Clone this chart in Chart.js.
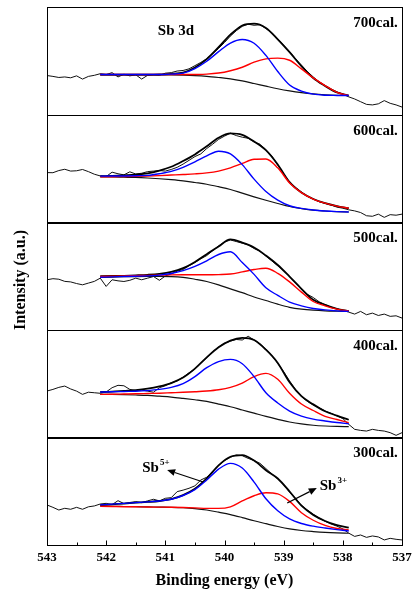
<!DOCTYPE html>
<html>
<head>
<meta charset="utf-8">
<title>Sb 3d XPS</title>
<script src="https://cdn.jsdelivr.net/npm/chart.js@4/dist/chart.umd.min.js"></script>
<style>
  html, body { margin: 0; padding: 0; background: #fff; }
  canvas { display: block; }
</style>
</head>
<body>
<canvas id="xps" width="412" height="596"></canvas>
<script>
// binding energy grids (eV)
const rawEnergy = [
  543.0, 542.9, 542.8, 542.7, 542.6, 542.5, 542.4, 542.3, 542.2, 542.1,
  542.0, 541.9, 541.8, 541.7, 541.6, 541.5, 541.4, 541.3, 541.2, 541.1,
  541.0, 540.9, 540.8, 540.7, 540.6, 540.5, 540.4, 540.3, 540.2, 540.1,
  540.0, 539.9, 539.8, 539.7, 539.6, 539.5, 539.4, 539.3, 539.2, 539.1,
  539.0, 538.9, 538.8, 538.7, 538.6, 538.5, 538.4, 538.3, 538.2, 538.1,
  538.0, 537.9, 537.8, 537.7, 537.6, 537.5, 537.4, 537.3, 537.2, 537.1,
  537.0
];
const fitEnergy = [
  542.1, 541.9, 541.7, 541.5, 541.3, 541.1, 540.9, 540.7, 540.5, 540.3, 540.1,
  539.9, 539.7, 539.5, 539.3, 539.1, 538.9, 538.7, 538.5, 538.3, 538.1, 537.9
];

const xTicks = [543, 542, 541, 540, 539, 538, 537];

// panel names, top to bottom
const panelNames = ['700cal.', '600cal.', '500cal.', '400cal.', '300cal.'];

// measured spectra (intensity, a.u., 0-100 per panel)
const raw700 = [
  36.3, 35.5, 34.5, 35.0, 34.2, 36.0, 33.0, 35.5, 36.5, 38.0,
  37.2, 39.0, 35.0, 37.5, 36.0, 37.0, 33.0, 36.5, 37.0, 36.5,
  38.5, 39.0, 40.5, 41.0, 42.5, 45.5, 48.5, 52.0, 56.5, 61.5,
  67.0, 73.0, 78.0, 82.0, 84.0, 83.0, 83.5, 80.0, 76.0, 70.5,
  64.5, 58.5, 52.0, 46.0, 40.0, 35.0, 30.5, 27.0, 23.5, 21.0,
  19.0, 16.5, 14.5, 12.0, 9.5, 9.0, 10.0, 13.0, 10.5, 9.0,
  7.0
];
const raw600 = [
  46.1, 46.0, 48.0, 49.2, 47.5, 47.8, 49.0, 47.0, 44.6, 43.0,
  42.4, 46.5, 45.0, 44.0, 46.8, 44.8, 45.5, 47.0, 47.5, 48.0,
  47.5, 49.0, 51.0, 54.0, 57.5, 61.0, 63.5, 68.5, 72.5, 77.0,
  80.0, 82.7, 80.5, 79.0, 78.0, 74.5, 72.5, 67.0, 61.5, 53.0,
  45.0, 37.0, 32.0, 28.0, 24.0, 21.5, 19.0, 17.5, 16.0, 14.0,
  13.0, 11.5, 10.5, 9.0, 6.0, 5.5, 7.5, 4.5, 7.0, 6.5,
  7.5
];
const raw500 = [
  46.5, 47.5, 47.0, 45.0, 44.5, 43.0, 41.8, 43.4, 45.0, 48.0,
  40.3, 46.5, 45.5, 44.9, 46.0, 48.0, 46.5, 48.0, 49.5, 46.0,
  50.0, 52.0, 54.5, 56.0, 59.5, 62.5, 66.0, 69.0, 73.5, 78.0,
  81.5, 83.5, 82.0, 80.5, 79.0, 75.5, 73.0, 68.5, 64.0, 59.5,
  55.0, 49.5, 43.5, 38.5, 33.0, 30.0, 26.0, 23.5, 21.0, 19.5,
  18.0, 16.4, 14.6, 17.1, 14.0, 15.5, 13.3, 14.6, 12.5, 13.0,
  10.9
];
const raw400 = [
  43.1, 44.6, 46.5, 47.7, 45.0, 43.0, 40.0, 42.0, 41.5, 41.0,
  42.2, 46.2, 48.4, 48.0, 44.6, 43.5, 44.0, 43.0, 42.0, 46.2,
  48.0, 50.8, 52.5, 56.0, 60.0, 63.5, 69.0, 74.0, 79.5, 84.0,
  87.5, 89.5, 91.0, 90.5, 94.0, 90.5, 87.0, 82.0, 76.0, 69.0,
  61.0, 52.5, 44.5, 38.0, 33.5, 30.0, 27.5, 24.5, 22.5, 20.0,
  17.5, 12.1, 7.5, 6.5, 5.9, 7.5, 6.5, 5.9, 4.4, 1.9,
  4.4
];
const raw300 = [
  37.2, 35.0, 32.5, 34.1, 33.2, 35.0, 33.2, 35.5, 36.3, 38.1,
  38.7, 37.5, 41.2, 38.5, 39.5, 40.3, 39.4, 41.0, 42.5, 41.0,
  43.4, 44.0, 49.6, 51.0, 52.7, 55.0, 60.4, 63.0, 68.0, 74.0,
  78.5, 81.5, 83.7, 83.0, 80.5, 78.5, 75.9, 71.0, 66.0, 61.5,
  56.0, 49.0, 43.5, 37.0, 32.5, 28.5, 25.0, 22.0, 19.5, 17.5,
  15.0, 11.0, 8.0, 9.3, 7.1, 8.4, 7.5, 4.7, 6.2, 5.3,
  4.7
];

// fitted envelopes
const env700 = [37.2, 37.2, 37.2, 37.2, 37.2, 37.4, 37.9, 39.0, 43.8, 51.6, 62.6, 74.3, 82.8, 84.5, 80.5, 70.0, 58.0, 45.0, 33.9, 26.6, 20.6, 17.7];
const env600 = [42.8, 43.1, 43.6, 44.2, 45.3, 47.9, 51.5, 56.9, 63.0, 70.5, 78.5, 82.5, 81.1, 74.9, 66.9, 53.6, 37.2, 27.6, 21.6, 17.7, 15.0, 13.0];
const env500 = [49.8, 50.0, 50.2, 50.6, 51.1, 52.0, 53.8, 57.3, 63.1, 70.3, 77.5, 84.0, 81.0, 76.5, 69.0, 60.2, 49.4, 38.1, 27.9, 23.2, 19.5, 17.3];
const env400 = [42.2, 42.6, 43.3, 44.0, 45.3, 47.4, 50.5, 55.6, 63.9, 74.4, 83.8, 90.0, 92.5, 90.5, 81.5, 69.2, 51.2, 38.3, 30.7, 24.3, 20.2, 16.4];
const env300 = [37.0, 37.8, 38.5, 39.3, 40.0, 40.9, 42.6, 46.3, 52.2, 61.9, 74.0, 82.0, 83.5, 78.5, 69.5, 61.8, 49.7, 36.5, 28.0, 22.3, 18.4, 16.1];

// Sb5+ components
const sb5_700 = [37.2, 37.2, 37.2, 37.2, 37.2, 37.3, 37.6, 38.5, 42.8, 49.6, 58.5, 66.5, 69.8, 66.3, 55.0, 40.0, 27.5, 21.8, 19.0, 18.0, 17.8, 17.7];
const sb5_600 = [42.8, 42.9, 43.0, 43.2, 43.5, 45.0, 47.2, 51.0, 56.0, 61.6, 66.0, 63.5, 53.5, 40.0, 28.5, 20.5, 15.3, 12.8, 11.3, 10.4, 9.8, 9.5];
const sb5_500 = [48.8, 49.2, 49.5, 49.8, 50.1, 50.8, 52.3, 55.0, 59.0, 64.1, 70.0, 72.5, 62.5, 51.5, 39.0, 32.0, 25.8, 22.3, 19.8, 18.5, 17.6, 17.1];
const sb5_400 = [42.2, 42.4, 42.7, 42.9, 43.5, 44.6, 46.5, 50.0, 56.5, 64.8, 70.5, 72.5, 68.5, 56.5, 41.5, 32.0, 24.5, 19.8, 17.0, 15.3, 13.8, 12.7];
const sb5_300 = [37.3, 38.0, 38.7, 39.4, 40.1, 40.9, 42.5, 46.0, 51.5, 60.4, 70.5, 75.9, 71.5, 58.5, 43.0, 31.8, 24.2, 20.0, 17.5, 15.8, 14.3, 13.0];

// Sb3+ components
const sb3_700 = [37.2, 37.2, 37.2, 37.2, 37.2, 37.2, 37.2, 37.2, 37.3, 37.6, 38.6, 40.8, 44.0, 48.7, 51.8, 52.5, 50.5, 42.5, 34.1, 27.0, 20.7, 17.7];
const sb3_600 = [42.1, 42.2, 42.4, 42.6, 42.9, 43.3, 43.8, 44.3, 44.9, 45.8, 47.5, 50.5, 54.6, 58.5, 58.8, 50.5, 36.5, 27.5, 21.5, 17.7, 15.0, 13.0];
const sb3_500 = [49.6, 49.8, 50.0, 50.3, 50.6, 50.8, 51.0, 51.1, 51.1, 51.1, 51.3, 51.8, 53.8, 56.0, 57.2, 52.5, 44.5, 35.0, 26.3, 22.3, 19.2, 17.3];
const sb3_400 = [40.0, 40.1, 40.3, 40.5, 40.8, 41.1, 41.5, 41.9, 42.4, 43.1, 44.3, 46.5, 50.5, 56.5, 59.5, 54.0, 41.0, 31.0, 25.0, 19.6, 16.6, 13.7];
const sb3_300 = [36.0, 35.8, 35.6, 35.5, 35.3, 35.2, 35.1, 34.9, 34.5, 34.0, 34.0, 35.5, 41.0, 45.8, 48.6, 47.5, 40.5, 30.0, 23.0, 18.2, 15.3, 14.0];

// Shirley backgrounds
const bg700 = [37.0, 37.0, 37.0, 37.0, 37.0, 37.0, 36.9, 36.7, 36.3, 35.6, 34.5, 33.2, 31.3, 28.9, 26.4, 24.0, 22.0, 20.4, 19.2, 18.4, 17.9, 17.7];
const bg600 = [42.1, 42.0, 41.8, 41.6, 41.1, 40.4, 39.5, 38.4, 36.9, 35.3, 33.0, 30.4, 27.0, 23.6, 20.4, 17.4, 14.6, 12.7, 11.2, 10.4, 9.8, 9.5];
const bg500 = [48.6, 49.0, 49.3, 49.5, 49.6, 49.6, 49.5, 48.8, 47.0, 44.9, 41.8, 38.0, 34.5, 30.5, 27.2, 23.8, 20.9, 19.2, 18.2, 17.6, 17.3, 17.1];
const bg400 = [40.0, 39.9, 39.7, 39.4, 39.0, 38.3, 37.5, 36.3, 35.0, 33.5, 31.0, 28.5, 25.5, 22.5, 19.5, 16.8, 14.3, 12.5, 11.3, 10.6, 10.2, 10.0];
const bg300 = [36.3, 36.0, 35.8, 35.6, 35.4, 35.2, 35.0, 34.6, 33.8, 32.5, 30.5, 28.3, 25.5, 22.5, 19.8, 17.2, 15.0, 13.5, 12.5, 11.7, 11.2, 10.9];

const rawSets = [raw700, raw600, raw500, raw400, raw300];
const envSets = [env700, env600, env500, env400, env300];
const sb5Sets = [sb5_700, sb5_600, sb5_500, sb5_400, sb5_300];
const sb3Sets = [sb3_700, sb3_600, sb3_500, sb3_400, sb3_300];
const bgSets = [bg700, bg600, bg500, bg400, bg300];

const SERIF = '"Liberation Serif", "Times New Roman", serif';

function pairs(xs, ys) {
  return ys.map((y, i) => ({ x: xs[i], y: y }));
}

// x axis is laid out but drawn by the plugin below, so the plot box stays fixed
const panelAxes = panelNames.map((_, i) => 'y' + i);
const scales = {
  x: {
    type: 'linear',
    display: false,
    min: 537,
    max: 543,
    reverse: true
  }
};
// one y axis per panel; the last one defined sits on top of the stack
for (let i = panelNames.length - 1; i >= 0; i--) {
  scales[panelAxes[i]] = {
    type: 'linear',
    display: false,
    min: 0,
    max: 100,
    position: 'left',
    stack: 'panels',
    stackWeight: 1
  };
}

const datasets = [];
panelNames.forEach((name, i) => {
  const axis = panelAxes[i];
  datasets.push({
    label: name + ' raw', yAxisID: axis, order: 4,
    data: pairs(rawEnergy, rawSets[i]),
    borderColor: '#111', borderWidth: 1, tension: 0
  });
  datasets.push({
    label: name + ' background', yAxisID: axis, order: 3,
    data: pairs(fitEnergy, bgSets[i]),
    borderColor: '#111', borderWidth: 1.2, cubicInterpolationMode: 'monotone'
  });
  datasets.push({
    label: name + ' envelope', yAxisID: axis, order: 2,
    data: pairs(fitEnergy, envSets[i]),
    borderColor: '#000', borderWidth: 1.8, cubicInterpolationMode: 'monotone'
  });
  datasets.push({
    label: name + ' Sb3+', yAxisID: axis, order: 1,
    data: pairs(fitEnergy, sb3Sets[i]),
    borderColor: '#ff0000', borderWidth: 1.4, cubicInterpolationMode: 'monotone'
  });
  datasets.push({
    label: name + ' Sb5+', yAxisID: axis, order: 0,
    data: pairs(fitEnergy, sb5Sets[i]),
    borderColor: '#0000ff', borderWidth: 1.4, cubicInterpolationMode: 'monotone'
  });
});

function arrow(ctx, x0, y0, x1, y1) {
  const ang = Math.atan2(y1 - y0, x1 - x0);
  const len = 8, half = 3.5;
  ctx.beginPath();
  ctx.moveTo(x0, y0);
  ctx.lineTo(x1 - Math.cos(ang) * len, y1 - Math.sin(ang) * len);
  ctx.stroke();
  ctx.beginPath();
  ctx.moveTo(x1, y1);
  ctx.lineTo(x1 - Math.cos(ang) * len - Math.sin(ang) * half, y1 - Math.sin(ang) * len + Math.cos(ang) * half);
  ctx.lineTo(x1 - Math.cos(ang) * len + Math.sin(ang) * half, y1 - Math.sin(ang) * len - Math.cos(ang) * half);
  ctx.closePath();
  ctx.fill();
}

function ion(ctx, text, sup, x, y) {
  ctx.font = 'bold 15px ' + SERIF;
  ctx.textAlign = 'left';
  ctx.textBaseline = 'alphabetic';
  ctx.fillText(text, x, y);
  const w = ctx.measureText(text).width;
  ctx.font = 'bold 9px ' + SERIF;
  ctx.fillText(sup, x + w + 1, y - 7);
}

const decorations = {
  id: 'decorations',
  afterDraw(chart) {
    const { ctx, chartArea: a } = chart;
    const sx = chart.scales.x;
    const top = chart.scales[panelAxes[0]];
    const bottom = chart.scales[panelAxes[panelAxes.length - 1]];
    ctx.save();
    ctx.strokeStyle = '#000';
    ctx.fillStyle = '#000';
    ctx.lineWidth = 1;

    // panel frames
    panelAxes.forEach(id => {
      const s = chart.scales[id];
      ctx.strokeRect(Math.round(a.left) + 0.5, Math.round(s.top) + 0.5,
        Math.round(a.right - a.left), Math.round(s.bottom - s.top));
    });

    // inward ticks on the bottom axis
    const yb = Math.round(bottom.bottom) + 0.5;
    for (let e = 537; e <= 543; e += 0.5) {
      const px = Math.round(sx.getPixelForValue(e)) + 0.5;
      const len = Number.isInteger(e) ? 5 : 3;
      ctx.beginPath();
      ctx.moveTo(px, yb);
      ctx.lineTo(px, yb - len);
      ctx.stroke();
    }

    // tick labels and x title
    ctx.font = 'bold 13px ' + SERIF;
    ctx.textAlign = 'center';
    ctx.textBaseline = 'middle';
    xTicks.forEach(v => ctx.fillText(String(v), sx.getPixelForValue(v), a.bottom + 13));
    ctx.font = 'bold 16px ' + SERIF;
    ctx.fillText('Binding energy (eV)', (a.left + a.right) / 2, a.bottom + 36);

    // panel labels
    ctx.font = 'bold 15px ' + SERIF;
    ctx.textAlign = 'right';
    panelNames.forEach((name, i) => {
      const s = chart.scales[panelAxes[i]];
      ctx.fillText(name, sx.getPixelForValue(537.07), s.getPixelForValue(85));
    });

    // Sb 3d
    ctx.textAlign = 'center';
    ctx.fillText('Sb 3d', sx.getPixelForValue(540.82), top.getPixelForValue(78));

    // ion labels and arrows in the 300cal. panel
    ion(ctx, 'Sb', '5+', sx.getPixelForValue(541.39), bottom.getPixelForValue(67.8));
    ion(ctx, 'Sb', '3+', sx.getPixelForValue(538.39), bottom.getPixelForValue(51.1));
    ctx.lineWidth = 1.2;
    arrow(ctx, sx.getPixelForValue(540.36), bottom.getPixelForValue(58.6),
      sx.getPixelForValue(540.97), bottom.getPixelForValue(69.7));
    arrow(ctx, sx.getPixelForValue(538.94), bottom.getPixelForValue(39.0),
      sx.getPixelForValue(538.44), bottom.getPixelForValue(53.0));

    // y title
    ctx.translate(21, (a.top + a.bottom) / 2 + 4);
    ctx.rotate(-Math.PI / 2);
    ctx.font = 'bold 16px ' + SERIF;
    ctx.textAlign = 'center';
    ctx.textBaseline = 'middle';
    ctx.fillText('Intensity (a.u.)', 0, 0);
    ctx.restore();
  }
};

new Chart(document.getElementById('xps'), {
  type: 'line',
  data: { datasets: datasets },
  options: {
    responsive: false,
    animation: false,
    events: [],
    layout: { padding: { left: 47, right: 10, top: 7, bottom: 51 } },
    elements: { point: { radius: 0 }, line: { fill: false } },
    plugins: { legend: { display: false }, tooltip: { enabled: false } },
    scales: scales
  },
  plugins: [decorations]
});
</script>
</body>
</html>
